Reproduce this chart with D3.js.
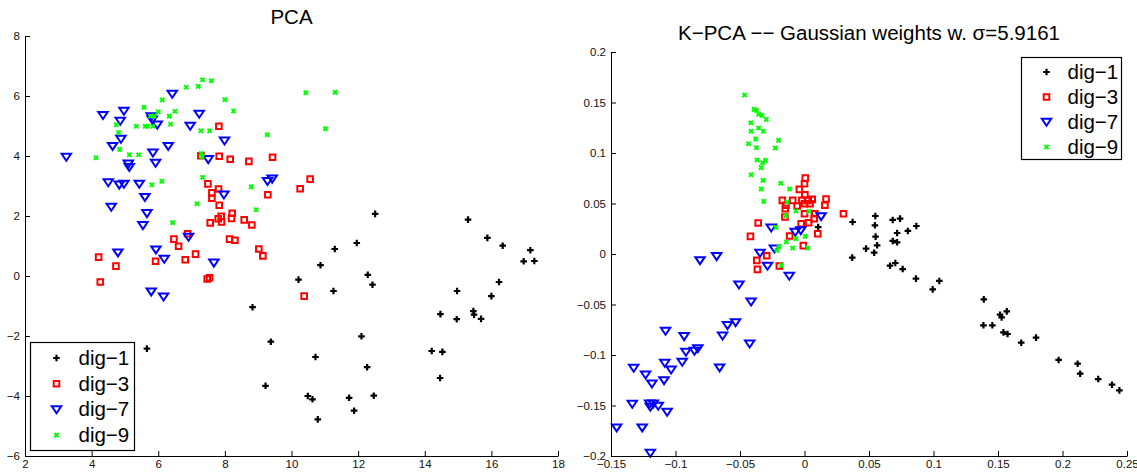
<!DOCTYPE html>
<html>
<head>
<meta charset="utf-8">
<script src="https://cdn.jsdelivr.net/npm/d3@7"></script>
<style>
  html, body { margin: 0; padding: 0; background: #fff; }
  svg { display: block; font-family: "Liberation Sans", Arial, sans-serif; }
</style>
</head>
<body>
<svg id="chart" width="1137" height="475"></svg>
<script>
// ---------------- DATA ----------------
const seriesNames = ["dig−1", "dig−3", "dig−7", "dig−9"];

// PCA panel
const pcaDig1 = [[12.51,2.07],[15.30,1.88],[15.88,1.27],[16.34,1.01],[17.17,0.86],[16.97,0.49],[17.29,0.50],
  [11.96,1.10],[11.30,0.90],[10.87,0.36],[12.29,0.04],[12.43,-0.29],[10.21,-0.12],[11.26,-0.50],[14.97,-0.50],
  [16.23,-0.20],[16.00,-0.67],[14.47,-1.27],[15.46,-1.17],[15.48,-1.29],[14.96,-1.44],[15.69,-1.43],[8.83,-1.04],
  [12.10,-2.01],[9.38,-2.19],[10.72,-2.70],[12.27,-3.04],[14.21,-2.50],[14.53,-2.53],[14.46,-3.40],[5.66,-2.42],
  [9.22,-3.66],[10.49,-4.00],[10.63,-4.11],[11.73,-4.06],[12.47,-3.99],[11.88,-4.49],[10.79,-4.78]];
const pcaDig3 = [[4.21,0.63],[4.26,-0.20],[4.73,0.33],[5.92,0.49],[6.47,1.23],[6.61,0.99],[6.81,0.54],[6.88,1.41],
  [7.12,0.73],[7.28,4.01],[7.82,4.99],[7.83,3.99],[8.16,3.89],[8.72,3.82],[9.43,3.96],[7.49,3.07],[7.81,2.90],
  [7.61,2.77],[7.61,2.59],[7.83,2.36],[10.56,3.23],[10.26,2.91],[9.29,2.71],[7.56,1.77],[7.80,1.91],[7.89,1.99],
  [7.90,1.80],[8.20,1.92],[8.22,2.09],[8.58,1.87],[8.81,1.70],[8.14,1.23],[8.30,1.19],[9.02,0.90],[9.14,0.67],
  [7.47,-0.10],[7.54,-0.06],[10.38,-0.67]];
const pcaDig7 = [[3.24,3.97],[4.34,5.36],[4.97,5.50],[4.86,5.17],[4.63,4.33],[4.88,4.57],[4.50,3.12],[4.83,3.04],
  [4.97,3.07],[5.10,3.74],[5.13,3.63],[4.59,2.30],[4.79,0.78],[5.43,3.07],[5.60,2.63],[5.66,2.09],[5.54,1.69],
  [5.79,5.32],[5.82,5.21],[5.97,5.04],[5.84,4.11],[5.92,3.77],[6.30,4.33],[6.42,6.07],[6.96,5.00],[7.23,5.40],
  [7.99,4.51],[7.50,3.89],[7.97,2.71],[9.28,3.16],[9.42,3.24],[6.91,1.30],[5.93,0.88],[6.18,0.57],[7.67,0.44],
  [5.79,-0.52],[6.16,-0.69]];
const pcaDig9 = [[4.13,3.94],[4.74,5.04],[4.81,4.78],[4.84,4.22],[5.13,4.04],[5.34,4.99],[5.41,4.04],[5.57,5.62],
  [5.61,4.99],[5.68,4.99],[5.84,4.99],[5.77,5.33],[5.88,5.33],[6.00,5.47],[6.12,5.87],[6.33,5.33],[6.37,5.06],
  [6.50,5.49],[6.84,6.29],[7.20,6.32],[7.33,6.54],[7.59,6.51],[8.00,5.88],[8.26,5.50],[7.28,4.84],[7.54,4.84],
  [7.29,4.08],[7.32,3.97],[7.33,3.29],[5.81,3.04],[6.11,3.16],[7.16,2.41],[6.43,1.78],[8.79,2.97],[8.94,2.21],
  [9.27,4.71],[10.43,6.11],[11.31,6.12],[11.02,4.91]];

// K-PCA panel
const kpcaDig1 = [[0.0373,0.0317],[0.0549,0.0376],[0.0546,0.0284],[0.0551,0.0172],[0.0563,0.0086],[0.0540,0.0013],
  [0.0477,0.0053],[0.0370,-0.0036],[0.0684,0.0337],[0.0741,0.0350],[0.0718,0.0208],[0.0801,0.0228],[0.0867,0.0277],
  [0.0684,0.0129],[0.0718,0.0116],[0.0663,-0.0116],[0.0704,-0.0089],[0.0761,-0.0149],[0.0864,-0.0244],[0.0994,-0.0350],
  [0.1045,-0.0267],[0.1390,-0.0449],[0.1387,-0.0706],[0.1456,-0.0706],[0.1516,-0.0601],[0.1528,-0.0627],[0.1568,-0.0568],
  [0.1542,-0.0776],[0.1574,-0.0792],[0.1680,-0.0878],[0.1795,-0.0828],[0.1970,-0.1049],[0.2117,-0.1086],[0.2137,-0.1185],
  [0.2277,-0.1238],[0.2384,-0.1294],[0.2441,-0.1350],[0.0106,0.0267]];
const kpcaDig3 = [[0.0006,0.0752],[0.0000,0.0696],[-0.0040,0.0640],[0.0003,0.0587],[-0.0172,0.0531],[-0.0092,0.0531],
  [-0.0144,0.0482],[-0.0149,0.0449],[-0.0020,0.0531],[0.0029,0.0531],[0.0060,0.0541],[0.0000,0.0498],[0.0043,0.0498],
  [-0.0057,0.0475],[0.0167,0.0545],[0.0158,0.0482],[0.0302,0.0399],[0.0000,0.0399],[0.0080,0.0399],[-0.0152,0.0366],
  [-0.0359,0.0307],[-0.0419,0.0175],[-0.0026,0.0300],[0.0032,0.0310],[-0.0115,0.0178],[0.0103,0.0201],[-0.0009,0.0083],
  [-0.0293,-0.0017],[-0.0370,-0.0063],[-0.0365,-0.0152],[-0.0195,-0.0119],[0.0075,0.0350]];
const kpcaDig7 = [[0.0129,0.0373],[-0.0072,0.0218],[-0.0029,0.0234],[-0.0258,0.0261],[-0.0233,0.0053],[-0.0345,0.0010],
  [-0.0287,-0.0119],[-0.0118,-0.0218],[-0.0810,-0.0063],[-0.0681,-0.0023],[-0.0508,-0.0304],[-0.0414,-0.0472],
  [-0.0534,-0.0677],[-0.0597,-0.0706],[-0.0635,-0.0809],[-0.0425,-0.0888],[-0.1077,-0.0762],[-0.0933,-0.0815],
  [-0.0827,-0.0934],[-0.0853,-0.0960],[-0.0919,-0.0970],[-0.0948,-0.1069],[-0.1083,-0.1079],[-0.1034,-0.1145],
  [-0.0658,-0.1125],[-0.1089,-0.1251],[-0.1183,-0.1284],[-0.1232,-0.1195],[-0.1324,-0.1129],[-0.1335,-0.1485],
  [-0.1200,-0.1482],[-0.1172,-0.1482],[-0.1195,-0.1515],[-0.1134,-0.1505],[-0.1065,-0.1564],[-0.1456,-0.1719],
  [-0.1258,-0.1719],[-0.1195,-0.1970]];
const kpcaDig9 = [[-0.0465,0.1574],[-0.0391,0.1432],[-0.0373,0.1422],[-0.0356,0.1383],[-0.0330,0.1373],[-0.0296,0.1333],
  [-0.0416,0.1300],[-0.0356,0.1248],[-0.0414,0.1215],[-0.0319,0.1215],[-0.0379,0.1139],[-0.0201,0.1125],[-0.0434,0.1092],
  [-0.0373,0.1053],[-0.0227,0.1050],[-0.0368,0.0931],[-0.0302,0.0927],[-0.0325,0.0904],[-0.0336,0.0855],[-0.0414,0.0785],
  [-0.0322,0.0729],[-0.0336,0.0644],[-0.0316,0.0521],[-0.0184,0.0700],[-0.0115,0.0644],[-0.0135,0.0515],[-0.0144,0.0380],
  [-0.0066,0.0426],[0.0034,0.0422],[-0.0221,0.0264],[-0.0141,0.0119],[-0.0066,0.0152],[0.0006,0.0175],[-0.0198,0.0076],
  [-0.0213,0.0036],[-0.0092,0.0059],[0.0026,0.0059],[-0.0178,-0.0112]];

// Ticks
const pcaXTicks = [2, 4, 6, 8, 10, 12, 14, 16, 18];
const pcaYTicks = [-6, -4, -2, 0, 2, 4, 6, 8];
const kpcaXTicks = [-0.15, -0.1, -0.05, 0, 0.05, 0.1, 0.15, 0.2, 0.25];
const kpcaYTicks = [-0.2, -0.15, -0.1, -0.05, 0, 0.05, 0.1, 0.15, 0.2];

const titles = ["PCA", "K−PCA −− Gaussian weights w. σ=5.9161"];

// ---------------- DRAWING ----------------
const svg = d3.select("#chart");
const colors = ["#000000", "#ff0000", "#0000ff", "#00ff00"];
const fmt = v => d3.format("")(+v.toFixed(4)).replace("-", "−");

function markerPath(k) {
  if (k === 0) return "M-3.3,0H3.3M0,-3.3V3.3";
  if (k === 1) return "M-2.8,-2.8H2.8V2.8H-2.8Z";
  if (k === 2) return "M-4.7,-3.2H4.7L0,3.8Z";
  return "M-2.1,-2.1L2.1,2.1M-2.1,2.1L2.1,-2.1";
}
function drawMarker(g, k, x, y) {
  const p = g.append("path")
    .attr("d", markerPath(k))
    .attr("transform", `translate(${x},${y})`)
    .attr("fill", "none")
    .attr("stroke", colors[k]);
  if (k === 0) p.attr("stroke-width", 2.2);
  else if (k === 1) p.attr("stroke-width", 2);
  else if (k === 2) p.attr("stroke-width", 2).attr("stroke-linejoin", "miter");
  else p.attr("stroke-width", 2);
}

function panel(opts) {
  const x = d3.scaleLinear().domain(opts.xDomain).range(opts.xRange);
  const y = d3.scaleLinear().domain(opts.yDomain).range(opts.yRange);
  const g = svg.append("g");

  // data
  opts.series.forEach((pts, k) => {
    const sg = g.append("g");
    pts.forEach(d => drawMarker(sg, k, x(d[0]), y(d[1])));
  });

  // axes (inward ticks, MATLAB style)
  const xAxis = d3.axisBottom(x).tickValues(opts.xTicks).tickSizeInner(-5).tickSizeOuter(0)
    .tickPadding(4).tickFormat(fmt);
  const yAxis = d3.axisLeft(y).tickValues(opts.yTicks).tickSizeInner(-5).tickSizeOuter(0)
    .tickPadding(5).tickFormat(fmt);
  const gx = g.append("g").attr("transform", `translate(0,${opts.yRange[0]})`).call(xAxis);
  const gy = g.append("g").attr("transform", `translate(${opts.xRange[0]},0)`).call(yAxis);
  [gx, gy].forEach(a => {
    a.select(".domain").attr("stroke", "#000").attr("stroke-width", 1);
    a.selectAll(".tick line").attr("stroke", "#000");
    a.selectAll("text").attr("font-size", 11.5).attr("fill", "#111")
      .attr("font-family", "Liberation Sans, Arial, sans-serif");
  });

  // title
  g.append("text")
    .attr("x", (opts.xRange[0] + opts.xRange[1]) / 2)
    .attr("y", opts.titleY)
    .attr("text-anchor", "middle")
    .attr("font-size", 20.5)
    .attr("fill", "#000")
    .text(opts.title);

  // legend
  const L = opts.legend;
  const lg = g.append("g");
  lg.append("rect").attr("x", L.x).attr("y", L.y).attr("width", L.w).attr("height", L.h)
    .attr("fill", "#fff").attr("stroke", "#000").attr("stroke-width", 1.2);
  seriesNames.forEach((name, k) => {
    const cy = L.y + L.first + k * L.step;
    drawMarker(lg, k, L.x + L.mx, cy);
    lg.append("text").attr("x", L.x + L.tx).attr("y", cy + 7)
      .attr("font-size", 20.5).attr("fill", "#000").text(name);
  });
}

panel({
  xDomain: [2, 18], yDomain: [-6, 8],
  xRange: [25, 558], yRange: [456, 36],
  xTicks: pcaXTicks, yTicks: pcaYTicks,
  series: [pcaDig1, pcaDig3, pcaDig7, pcaDig9],
  title: titles[0], titleY: 24,
  legend: { x: 30.5, y: 342.5, w: 104, h: 108, first: 15.5, step: 25.7, mx: 26, tx: 48 }
});

panel({
  xDomain: [-0.15, 0.25], yDomain: [-0.2, 0.2],
  xRange: [611, 1127], yRange: [456, 52],
  xTicks: kpcaXTicks, yTicks: kpcaYTicks,
  series: [kpcaDig1, kpcaDig3, kpcaDig7, kpcaDig9],
  title: titles[1], titleY: 39.5,
  legend: { x: 1021.5, y: 57.5, w: 100, h: 102, first: 14.5, step: 25, mx: 25, tx: 46 }
});
</script>
</body>
</html>
